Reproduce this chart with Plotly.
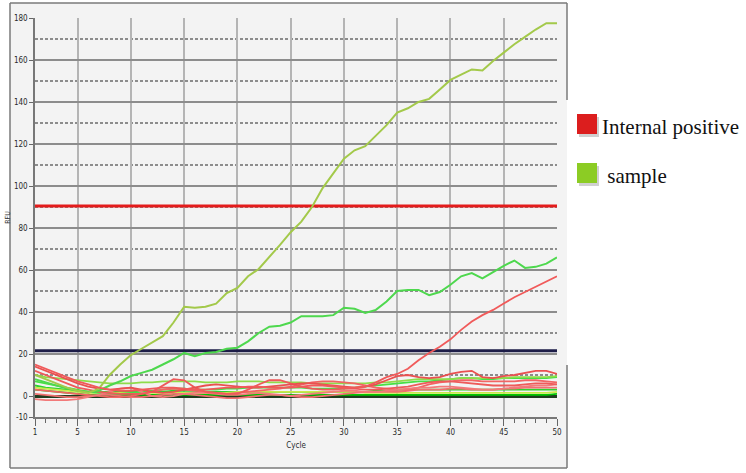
import plotly.graph_objects as go

# ---------------- data ----------------
cycles = list(range(1, 51))

sample_main = [10, 8, 6, 4, 2.5, 1.5, 3.5, 10, 15, 19.5, 22.5, 25.5, 28.5, 35, 42.5, 42, 42.5, 44, 49, 51.5,
               57, 60.5, 66, 72, 78, 83, 90, 99, 106, 113, 117, 119, 124, 129, 135, 137, 140, 141.5, 146, 150.5,
               153, 155.5, 155, 159.5, 163.5, 167.5, 171, 174.5, 177.5, 177.5]
sample_second = [8, 6.5, 5, 3.5, 2.5, 2, 2.5, 5, 7, 9.5, 11, 12.5, 15, 17.5, 20.5, 19, 20.5, 21, 22.5, 23,
                 26, 30, 33, 33.5, 35, 38, 38, 38, 38.5, 42, 41.5, 39.5, 41, 45, 50, 50.5, 50.5, 48, 49.5, 53,
                 57, 58.5, 56, 59, 62, 64.5, 61, 61.5, 63, 66]
sample_g1 = [10, 9, 8.5, 8, 7.5, 7, 6.5, 6, 6, 6, 6.5, 6.5, 7, 7, 7, 7, 6.5, 6.5, 6.5, 7,
             7, 7, 6.5, 6.5, 6.5, 6.5, 6, 6, 6, 6, 6, 6, 6.5, 6.5, 7, 7.5, 8, 8, 8, 8,
             8.5, 8.5, 8.5, 8.5, 8.5, 9, 9, 9, 9, 9.5]
sample_g2 = [7, 6, 5, 4, 3, 2, 1.5, 1, 1, 1.5, 2, 2.5, 3, 3.5, 3.5, 3, 3, 3, 3.5, 3.5,
             4, 4, 4, 4, 4, 4, 3.5, 3.5, 3.5, 3.5, 4, 4.5, 5, 5.5, 6, 6.5, 7, 7, 7.5, 8,
             8.5, 8.5, 8, 8, 8.5, 8.5, 8.5, 8.5, 8.5, 9]
sample_g3 = [5, 4, 3.5, 3, 2.5, 2, 2, 2, 2, 2, 2, 2, 2, 2.5, 2.5, 2.5, 2, 2, 2, 2,
             2, 2, 2, 2, 2, 2, 2, 2, 2, 2, 2, 2, 2.5, 2.5, 3, 3, 3, 3, 3, 3,
             3, 3, 3, 3, 3, 3, 3, 3, 3, 3]
sample_g4 = [3, 2.5, 2, 1.5, 1, 0.5, 0.5, 0.5, 0.5, 0.5, 0.5, 0.5, 0.5, 0.5, 0.5, 0.5, 0.5, 0.5, 0.5, 0.5,
             0.5, 0.5, 0.5, 0.5, 0.5, 0.5, 0.5, 0.5, 0.5, 0.5, 0.5, 0.5, 0.5, 0.5, 0.5, 0.5, 0.5, 0.5, 0.5, 0.5,
             0.5, 0.5, 0.5, 0.5, 0.5, 0.5, 0.5, 0.5, 0.5, 1]
sample_g5 = [4, 3.5, 3, 2.5, 2, 1.5, 1.5, 1.5, 1.5, 1.5, 1.5, 1.5, 1.5, 1.5, 1.5, 1.5, 1.5, 1.5, 1.5, 2,
             2, 2, 2, 2, 2, 2, 2, 2, 2, 2, 2, 1.5, 1.5, 1.5, 1.5, 1.5, 1.5, 1.5, 1.5, 1.5,
             1.5, 1.5, 1.5, 1.5, 1.5, 1.5, 1.5, 1.5, 1.5, 2]

ipc_rise = [15, 13, 11, 9, 7, 5.5, 4, 3, 2.5, 2.5, 3, 3.5, 4, 4, 3.5, 3, 3, 3.5, 4, 4,
            4.5, 4.5, 4, 4, 4, 4.5, 5, 5, 4.5, 4, 4, 4.5, 6.5, 9, 10.5, 13, 17, 20.5, 23.5, 27,
            31.5, 35.5, 38.5, 41, 44, 47, 49.5, 52, 54.5, 57]
ipc_r2 = [14, 12, 10, 8, 6, 4.5, 3.5, 3, 3.5, 4, 3, 2, 1.5, 2, 3, 4, 5, 5.5, 5, 4.5,
          4, 4, 4.5, 5, 5.5, 6, 6, 5.5, 5, 4.5, 4, 4.5, 5.5, 7.5, 9.5, 10, 9, 8.5, 9, 10.5,
          11.5, 12, 9, 8.5, 9.5, 10, 11, 12, 12, 10.5]
ipc_r3 = [-1.5, -2, -2, -2, -1.5, -0.5, 0.5, 2, 3.5, 4, 2, 0, -0.5, 0, 1, 1.5, 1.5, 1, 0.5, 0.5,
          1, 1.5, 1, 0.5, 0, 0.5, 1, 1.5, 2, 2.5, 2.5, 2, 2, 2.5, 3, 3.5, 4, 4, 4.5, 4.5,
          4, 3.5, 3, 3, 3.5, 4, 4.5, 5, 5, 5.5]
ipc_r4 = [12, 10, 8, 6, 4, 3, 2, 1.5, 1, 1, 1, 2, 5, 8, 7.5, 4, 2, 1.5, 1, 1,
          3, 5.5, 7.5, 7.5, 6, 4.5, 3.5, 3, 3, 3.5, 3.5, 3, 3, 3.5, 4, 4.5, 5.5, 6.5, 7, 7,
          6.5, 6, 5.5, 5, 5, 5, 5.5, 6, 6, 5.5]
ipc_r5 = [3, 2.5, 2, 1.5, 1, 0.5, 0, -0.5, -0.5, 0, 1, 2, 3, 3.5, 3, 2.5, 2, 1.5, 1, 1.5,
          2, 2.5, 3, 3.5, 4.5, 5.5, 6.5, 7, 7, 6.5, 6, 5, 4, 3.5, 3, 3, 4, 5.5, 6.5, 7,
          7.5, 7.5, 7, 7, 7, 7, 7.5, 7.5, 7, 6.5]
ipc_r6 = [1, 0.5, 0, -0.5, -0.5, 0, 0.5, 0.5, 0, -0.5, -0.5, 0, 0.5, 1, 1, 0.5, 0, -0.5, -1, -1,
          -0.5, 0, 0.5, 0.5, 0, -0.5, -0.5, 0, 0.5, 1, 1.5, 2, 2, 2, 2, 2.5, 3, 3, 3, 3.5,
          3.5, 3, 3, 3, 3.5, 3.5, 4, 4, 4, 4]

threshold_red = 90.5
threshold_navy = 21.5

x_tickvals = [1, 5, 10, 15, 20, 25, 30, 35, 40, 45, 50]
y_tickvals = [-10, 0, 20, 40, 60, 80, 100, 120, 140, 160, 180]

legend_labels = ["Internal positive", " sample"]

# ---------------- figure ----------------
W, H = 746, 473
ML, MR, MT, MB = 35, 189, 18, 56
PW, PH = W - ML - MR, H - MT - MB


def px(x):
    return (x - ML) / PW


def py(y):
    return (H - MB - y) / PH


fig = go.Figure()

# thresholds (drawn first, below curves)
fig.add_trace(go.Scatter(x=[cycles[0], cycles[-1]], y=[threshold_red] * 2, mode="lines",
                         line=dict(color="#e41b1b", width=3), hoverinfo="skip", showlegend=False))
fig.add_trace(go.Scatter(x=[cycles[0], cycles[-1]], y=[threshold_navy] * 2, mode="lines",
                         line=dict(color="#1d1d48", width=3), hoverinfo="skip", showlegend=False))

green_noise = [
    (sample_g3, "#2fd12f"),
    (sample_g4, "#00c800"),
    (sample_g5, "#c8ea4a"),
    (sample_g2, "#45e045"),
    (sample_g1, "#8fdc4a"),
]
red_noise = [
    (ipc_r6, "#f07070"),
    (ipc_r5, "#f26464"),
    (ipc_r3, "#f27a7a"),
    (ipc_r4, "#ee5a5a"),
    (ipc_r2, "#ea5050"),
]

for ys, col in green_noise:
    fig.add_trace(go.Scatter(x=cycles, y=ys, mode="lines", line=dict(color=col, width=1.8),
                             showlegend=False, hoverinfo="skip"))
for ys, col in red_noise:
    fig.add_trace(go.Scatter(x=cycles, y=ys, mode="lines", line=dict(color=col, width=1.8),
                             showlegend=False, hoverinfo="skip"))

fig.add_trace(go.Scatter(x=cycles, y=sample_second, mode="lines", line=dict(color="#4ed84e", width=2),
                         showlegend=False, hoverinfo="skip"))
fig.add_trace(go.Scatter(x=cycles, y=sample_main, mode="lines", line=dict(color="#a3c94a", width=2),
                         showlegend=False, hoverinfo="skip"))
fig.add_trace(go.Scatter(x=cycles, y=ipc_rise, mode="lines", line=dict(color="#f05a5a", width=1.8),
                         showlegend=False, hoverinfo="skip"))

tick_font = dict(family="Liberation Sans Narrow, DejaVu Sans Condensed, Arial Narrow, sans-serif",
                 size=8, color="#2a2a2a")

fig.update_xaxes(range=[1, 50], tickvals=x_tickvals, ticktext=[str(v) for v in x_tickvals],
                 automargin=False,
                 showgrid=True, gridcolor="#b4b4b4", gridwidth=2,
                 ticks="outside", ticklen=7, tickcolor="#666", tickwidth=1,
                 minor=dict(dtick=1, tick0=0, ticks="outside", ticklen=4, tickcolor="#666", showgrid=False),
                 showline=True, linecolor="#777", linewidth=1.5, zeroline=False,
                 tickfont=tick_font,
                 title=dict(text="Cycle", font=tick_font, standoff=6))
fig.update_yaxes(range=[-10, 180], tickvals=y_tickvals, ticktext=[str(v) for v in y_tickvals],
                 automargin=False,
                 showgrid=True, gridcolor="#8c8c8c", gridwidth=2,
                 ticks="outside", ticklen=4, tickcolor="#666",
                 minor=dict(dtick=10, tick0=0, showgrid=True, gridcolor="#8c8c8c", gridwidth=1.6,
                            griddash="3px,2px", ticks=""),
                 showline=True, linecolor="#777", linewidth=1.5,
                 zeroline=True, zerolinecolor="#1f3d1f", zerolinewidth=2.5,
                 tickfont=tick_font,
                 title=dict(text="RFU", font=dict(family=tick_font["family"], size=7, color="#333"),
                            standoff=2))

shapes = []
# instrument frame background
shapes.append(dict(type="rect", xref="paper", yref="paper", x0=px(10), x1=px(567), y0=py(468), y1=py(3),
                   fillcolor="#f3f3f3", line=dict(width=0), layer="below"))
frame_line = dict(color="#7a7a7a", width=1.5)
for (a, b, c, d) in [(10, 3, 567, 3), (10, 3, 10, 468), (10, 468, 567, 468), (567, 3, 567, 100), (567, 365, 567, 468)]:
    shapes.append(dict(type="line", xref="paper", yref="paper", x0=px(a), y0=py(b), x1=px(c), y1=py(d),
                       line=frame_line, layer="above"))

# legend keys
leg_cols = ["#dc1e1e", "#8ccc24"]
leg_tops = [113, 162]
for col, top in zip(leg_cols, leg_tops):
    shapes.append(dict(type="rect", xref="paper", yref="paper", x0=px(579), x1=px(599), y0=py(top + 24),
                       y1=py(top + 4), fillcolor="rgba(120,120,120,0.35)", line=dict(width=0)))
    shapes.append(dict(type="rect", xref="paper", yref="paper", x0=px(577), x1=px(597), y0=py(top + 21),
                       y1=py(top + 1), fillcolor=col, line=dict(width=0)))

annotations = []
for lab, top in zip(legend_labels, leg_tops):
    annotations.append(dict(text=lab, xref="paper", yref="paper", x=px(600), y=py(top + 14),
                            xanchor="left", yanchor="middle", showarrow=False,
                            font=dict(family="Liberation Serif, Times New Roman, serif", size=21, color="#111")))

fig.update_layout(width=W, height=H, margin=dict(l=ML, r=MR, t=MT, b=MB, autoexpand=False),
                  paper_bgcolor="white", plot_bgcolor="#f3f3f3",
                  shapes=shapes, annotations=annotations, showlegend=False)

fig.write_html("out.html", config={"displayModeBar": False},
               post_script="document.body.style.margin='0px';document.body.style.overflow='hidden';")
